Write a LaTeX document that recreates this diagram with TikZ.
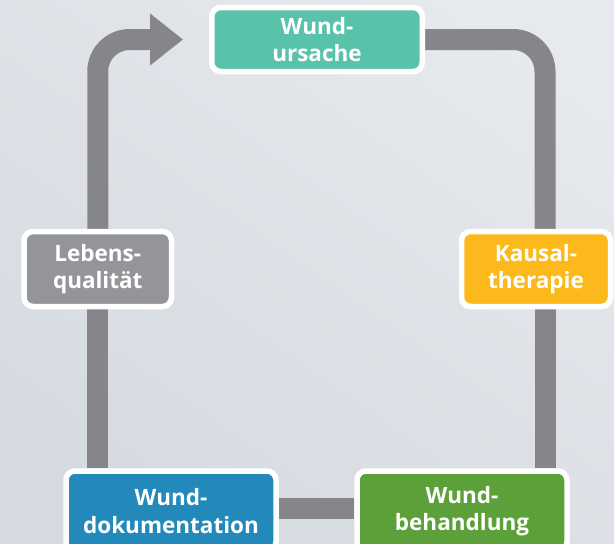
\documentclass[tikz,border=0pt]{standalone}
\usepackage{fontspec}
\setmainfont{Open Sans}
\usetikzlibrary{arrows.meta,calc}
\definecolor{bgA}{HTML}{E6E9ED}
\definecolor{bgB}{HTML}{F0F1F4}
\definecolor{bgC}{HTML}{D5DAE1}
\definecolor{conncol}{HTML}{86868A}
\definecolor{cteal}{HTML}{58C2AA}
\definecolor{cyellow}{HTML}{FBB91B}
\definecolor{cgray}{HTML}{949599}
\definecolor{cblue}{HTML}{2389BA}
\definecolor{cgreen}{HTML}{5BA039}
\pgfdeclarelayer{bglayer}
\pgfdeclarelayer{connlayer}
\pgfsetlayers{bglayer,connlayer,main}
\tikzset{
  stepbox/.style={draw=white, line width=5.5pt, rounded corners=9pt, text=white,
    inner sep=0pt, align=center,
    font=\bfseries\fontsize{22.5}{27.5}\selectfont},
  conn/.style={draw=conncol, line width=21pt, rounded corners=32pt},
}
\begin{document}
\begin{tikzpicture}[x=1pt,y=-1pt]
\useasboundingbox (0,0) rectangle (614,544);
\begin{pgfonlayer}{bglayer}
\shade[shading=axis, top color=bgA, middle color=bgB, bottom color=bgC, shading angle=-35]
  (-20,-20) rectangle (634,564);
\end{pgfonlayer}
\node[stepbox, fill=cteal, minimum width=210.5pt, minimum height=64pt] (ursache) at (317,39.5) {Wund-\\ursache};
\node[stepbox, fill=cyellow, minimum width=149pt, minimum height=75pt] (kausal) at (536,269) {Kausal-\\therapie};
\node[stepbox, fill=cgray, minimum width=147.5pt, minimum height=75pt] (lebens) at (97.75,269) {Lebens-\\qualität};
\node[stepbox, fill=cblue, minimum width=210pt, minimum height=80pt] (doku) at (171,511) {Wund-\\dokumentation};
\node[stepbox, fill=cgreen, minimum width=210pt, minimum height=80pt] (behand) at (462,511) {Wund-\\behandlung};
\coordinate (tip) at ($(ursache.west)+(-26,0)$);
\coordinate (kr) at ($(kausal.south)+(9,0)$);
\coordinate (kt) at ($(kausal.north)+(9,0)$);
\coordinate (bl) at ($(doku.east)+(0,-2.5)$);
\begin{pgfonlayer}{connlayer}
\draw[conn] (ursache.east) -| (kt);
\draw[conn] (kr) -- (kr |- behand.north);
\draw[conn] (bl) -- (bl -| behand.west);
\draw[conn] (lebens.south) -- (lebens.south |- doku.north);
\draw[conn, -{Triangle[length=33pt,width=50pt]}] (lebens.north) |- (tip);
\end{pgfonlayer}
\end{tikzpicture}
\end{document}
